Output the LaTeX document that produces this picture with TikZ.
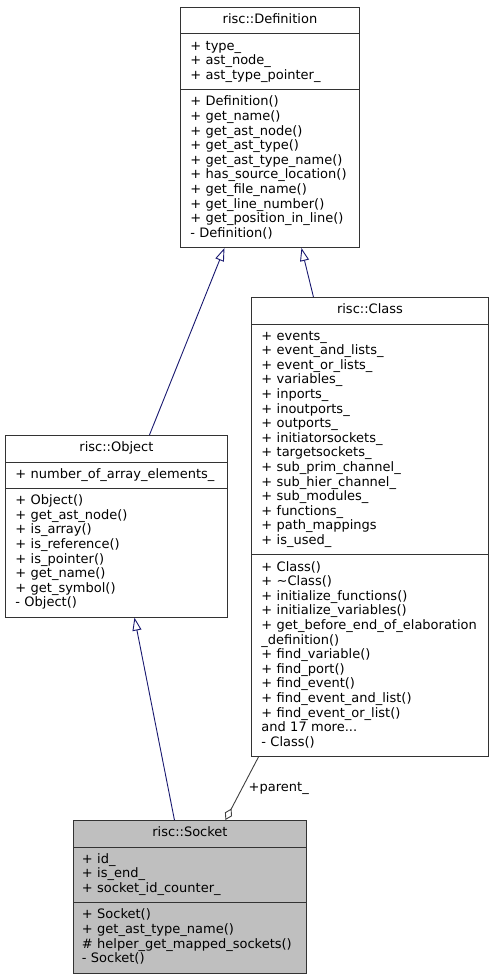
\documentclass[tikz,border=0pt]{standalone}
\usepackage{fontspec}
\setmainfont{DejaVu Sans}
\usetikzlibrary{arrows.meta, shapes.multipart}
\definecolor{edgeblue}{HTML}{191970}
\definecolor{edgegray}{HTML}{404040}
\definecolor{boxgray}{HTML}{BFBFBF}
\newcommand{\clstitle}[1]{\centerline{\strut#1\strut}}
\tikzset{
    cls/.style = {rectangle split, rectangle split parts=3, draw=black!80, line width=0.9pt, fill=white, anchor=north west, align=left, inner xsep=10pt, inner ysep=5.5pt, font=\fontsize{13}{14.6}\selectfont},
    inh/.style = {-{Triangle[open, length=13pt, width=9pt]}, edgeblue, line width=0.9pt},
    agg/.style = {{Diamond[open, length=13pt, width=8pt]}-, edgegray, line width=0.9pt}
}

\begin{document}
\begin{tikzpicture}[x=1pt, y=-1pt]
\useasboundingbox (0,0) rectangle (495,976);
% Base class
\node[cls, text width=159pt] (def) at (180,7) {\clstitle{risc::Definition}
\nodepart{two}\strut+ type\_\\+ ast\_node\_\\+ ast\_type\_pointer\_\strut
\nodepart{three}\strut+ Definition()\\+ get\_name()\\+ get\_ast\_node()\\+ get\_ast\_type()\\+ get\_ast\_type\_name()\\+ has\_source\_location()\\+ get\_file\_name()\\+ get\_line\_number()\\+ get\_position\_in\_line()\\- Definition()\strut};

% Derived classes
\node[cls, text width=202pt] (obj) at (5,435) {\clstitle{risc::Object}
\nodepart{two}\strut+ number\_of\_array\_elements\_\strut
\nodepart{three}\strut+ Object()\\+ get\_ast\_node()\\+ is\_array()\\+ is\_reference()\\+ is\_pointer()\\+ get\_name()\\+ get\_symbol()\\- Object()\strut};

\node[cls, text width=217pt] (cls) at (251,297) {\clstitle{risc::Class}
\nodepart{two}\strut+ events\_\\+ event\_and\_lists\_\\+ event\_or\_lists\_\\+ variables\_\\+ inports\_\\+ inoutports\_\\+ outports\_\\+ initiatorsockets\_\\+ targetsockets\_\\+ sub\_prim\_channel\_\\+ sub\_hier\_channel\_\\+ sub\_modules\_\\+ functions\_\\+ path\_mappings\\+ is\_used\_\strut
\nodepart{three}\strut+ Class()\\+ \textasciitilde Class()\\+ initialize\_functions()\\+ initialize\_variables()\\+ get\_before\_end\_of\_elaboration\\\_definition()\\+ find\_variable()\\+ find\_port()\\+ find\_event()\\+ find\_event\_and\_list()\\+ find\_event\_or\_list()\\and 17 more...\\- Class()\strut};

% Socket
\node[cls, fill=boxgray, inner xsep=8.5pt, text width=216pt] (sock) at (73,820) {\clstitle{risc::Socket}
\nodepart{two}\strut+ id\_\\+ is\_end\_\\+ socket\_id\_counter\_\strut
\nodepart{three}\strut+ Socket()\\+ get\_ast\_type\_name()\\\# helper\_get\_mapped\_sockets()\\- Socket()\strut};

% Object -> Definition
\draw[inh] ([xshift=33pt]obj.north) -- ([xshift=-45.5pt]def.south);
% Class -> Definition
\draw[inh] ([xshift=-56.5pt]cls.north) -- ([xshift=31.5pt]def.south);
% Socket -> Object
\draw[inh] ([xshift=-15.5pt]sock.north) -- ([xshift=18pt]obj.south);
% Class <>- Socket
\draw[agg] ([xshift=35.5pt]sock.north) -- ([xshift=-111.5pt]cls.south) node[midway, right=3pt, black, font=\fontsize{13}{14.6}\selectfont] (par) {+parent\_};
\end{tikzpicture}
\end{document}
